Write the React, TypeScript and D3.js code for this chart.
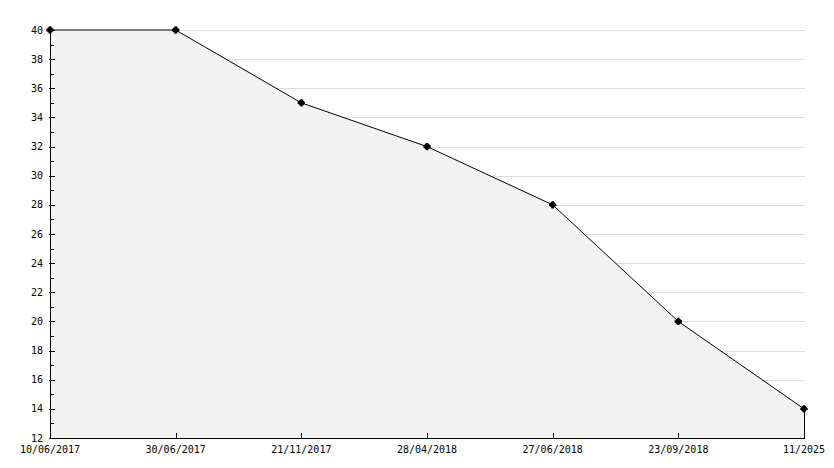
import React from "react";
import * as d3 from "d3";

const categories = ["10/06/2017", "30/06/2017", "21/11/2017", "28/04/2018", "27/06/2018", "23/09/2018", "11/2025"];
const values = [40, 40, 35, 32, 28, 20, 14];
const yMajorTicks = [12, 14, 16, 18, 20, 22, 24, 26, 28, 30, 32, 34, 36, 38, 40];
const yMinorTicks = [13, 15, 17, 19, 21, 23, 25, 27, 29, 31, 33, 35, 37, 39];

const W = 834, H = 468;
const left = 50, right = 804, top = 30, bottom = 438;

export default function App() {
  const x = d3.scalePoint<string>().domain(categories).range([left, right]);
  const y = d3.scaleLinear().domain([12, 40]).range([bottom, top]);
  const pts = categories.map((c, i) => [x(c) as number, y(values[i])] as [number, number]);
  const line = d3.line()(pts) as string;
  const areaPath = d3.area<[number, number]>().x(d => d[0]).y0(bottom).y1(d => d[1])(pts) as string;
  const lastX = pts[pts.length - 1][0];
  const font = "'DejaVu Sans Mono', monospace";
  return (
    <svg width={W} height={H} style={{ position: "absolute", left: 0, top: 0, background: "#fff" }}>
      {yMajorTicks.map(t => (
        <line key={"g" + t} x1={left} x2={right + 1} y1={Math.round(y(t)) + 0.5} y2={Math.round(y(t)) + 0.5} stroke="#dcdcdc" strokeWidth={1} />
      ))}
      <path d={areaPath} fill="#f2f2f2" stroke="none" />
      <line x1={lastX + 0.5} x2={lastX + 0.5} y1={pts[pts.length - 1][1]} y2={bottom} stroke="#000" strokeWidth={1} />
      <path d={line} fill="none" stroke="#000" strokeWidth={1} />
      <line x1={left + 0.5} x2={left + 0.5} y1={top} y2={bottom + 0.5} stroke="#000" strokeWidth={1} />
      <line x1={left} x2={right + 1} y1={bottom + 0.5} y2={bottom + 0.5} stroke="#000" strokeWidth={1} />
      {yMajorTicks.map(t => (
        <g key={"t" + t}>
          <line x1={left - 1} x2={left + 5} y1={Math.round(y(t)) + 0.5} y2={Math.round(y(t)) + 0.5} stroke="#000" />
          <text x={43} y={y(t) + 3.5} textAnchor="end" fontFamily={font} fontSize={10} fill="#000">{t}</text>
        </g>
      ))}
      {yMinorTicks.map(t => (
        <line key={"m" + t} x1={left} x2={left + 4} y1={Math.round(y(t)) + 0.5} y2={Math.round(y(t)) + 0.5} stroke="#000" />
      ))}
      {categories.map(c => (
        <g key={"x" + c}>
          <line x1={Math.round(x(c) as number) + 0.5} x2={Math.round(x(c) as number) + 0.5} y1={bottom} y2={bottom - 5} stroke="#000" />
          <text x={x(c) as number} y={bottom + 15} textAnchor="middle" fontFamily={font} fontSize={10} fill="#000">{c}</text>
        </g>
      ))}
      {pts.map((p, i) => (
        <g key={"p" + i}>
          <circle cx={p[0]} cy={p[1]} r={3} fill="#000" />
          <path d={d3.symbol(d3.symbolCross, 30)() as string} transform={`translate(${p[0]},${p[1]})`} fill="#000" />
        </g>
      ))}
    </svg>
  );
}
